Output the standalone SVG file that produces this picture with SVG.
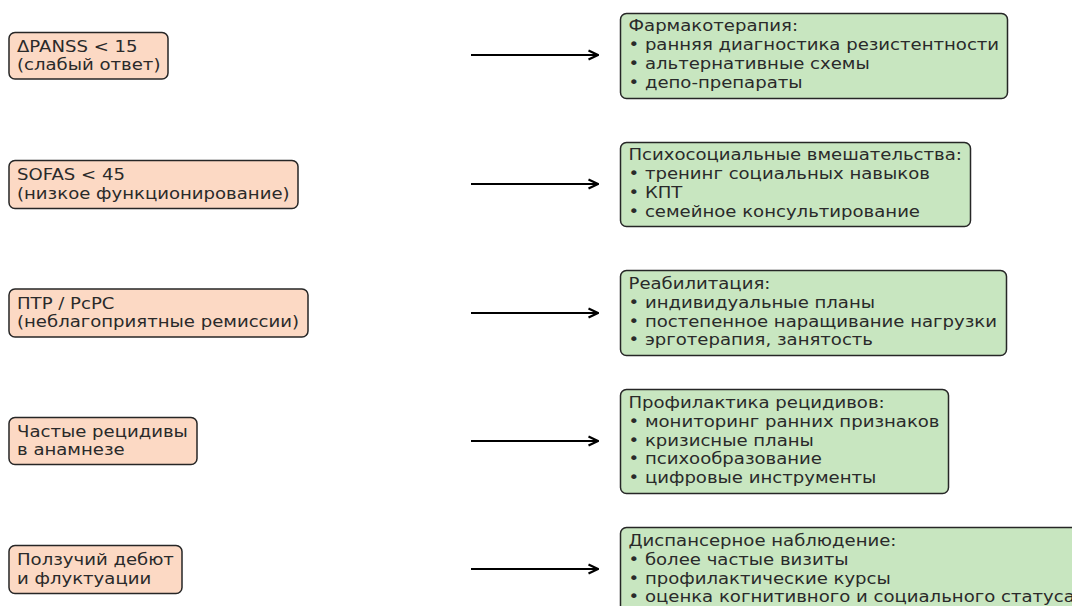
<svg xmlns="http://www.w3.org/2000/svg" width="1072" height="606" viewBox="0 0 1072 606">
<style>
.l{fill:#fcd9c4;stroke:#262626;stroke-width:1.5}
.r{fill:#c8e6c0;stroke:#262626;stroke-width:1.5}
text{font-family:"DejaVu Sans",sans-serif;font-size:16px;fill:#2a2a2a}
.c{stroke:#000;stroke-width:2;fill:none}
</style>
<defs>
<marker id="ah" viewBox="0 0 12 12" refX="11" refY="6" markerWidth="12" markerHeight="12" markerUnits="userSpaceOnUse" orient="auto">
<path d="M1.5,1.5 L11,6 L1.5,10.5" fill="none" stroke="#000" stroke-width="2.2"/>
</marker>
</defs>
<g id="connectors">
<line class="c" x1="471" y1="55" x2="598" y2="55" marker-end="url(#ah)"/>
<line class="c" x1="471" y1="184" x2="598" y2="184" marker-end="url(#ah)"/>
<line class="c" x1="471" y1="313" x2="598" y2="313" marker-end="url(#ah)"/>
<line class="c" x1="471" y1="441" x2="598" y2="441" marker-end="url(#ah)"/>
<line class="c" x1="471" y1="569" x2="598" y2="569" marker-end="url(#ah)"/>
</g>
<g id="n1"><rect class="l" x="9" y="32.5" width="159" height="46.5" rx="6"/>
<g transform="translate(17,0) scale(1.13,1)"><text x="0" y="52">ΔPANSS &lt; 15</text><text x="0" y="70.5">(слабый ответ)</text></g></g>
<g id="n2"><rect class="l" x="9" y="160.5" width="289" height="48" rx="6"/>
<g transform="translate(17,0) scale(1.13,1)"><text x="0" y="180.5">SOFAS &lt; 45</text><text x="0" y="199">(низкое функционирование)</text></g></g>
<g id="n3"><rect class="l" x="9" y="289" width="299" height="48" rx="6"/>
<g transform="translate(17,0) scale(1.13,1)"><text x="0" y="309">ПТР / РсРС</text><text x="0" y="327.5">(неблагоприятные ремиссии)</text></g></g>
<g id="n4"><rect class="l" x="9" y="417.5" width="188" height="47" rx="6"/>
<g transform="translate(17,0) scale(1.13,1)"><text x="0" y="437">Частые рецидивы</text><text x="0" y="455.5">в анамнезе</text></g></g>
<g id="n5"><rect class="l" x="9" y="545.5" width="173" height="48" rx="6"/>
<g transform="translate(17,0) scale(1.13,1)"><text x="0" y="565.5">Ползучий дебют</text><text x="0" y="584">и флуктуации</text></g></g>
<g id="t1"><rect class="r" x="620.5" y="13.5" width="387" height="85" rx="6"/>
<g transform="translate(628.5,0) scale(1.13,1)"><text x="0" y="31.5">Фармакотерапия:</text><text x="0" y="50.3">• ранняя диагностика резистентности</text><text x="0" y="69.1">• альтернативные схемы</text><text x="0" y="87.9">• депо-препараты</text></g></g>
<g id="t2"><rect class="r" x="620.5" y="142.5" width="350" height="84" rx="6"/>
<g transform="translate(628.5,0) scale(1.13,1)"><text x="0" y="160.5">Психосоциальные вмешательства:</text><text x="0" y="179.3">• тренинг социальных навыков</text><text x="0" y="198.1">• КПТ</text><text x="0" y="216.9">• семейное консультирование</text></g></g>
<g id="t3"><rect class="r" x="620.5" y="270.5" width="386" height="85" rx="6"/>
<g transform="translate(628.5,0) scale(1.13,1)"><text x="0" y="289">Реабилитация:</text><text x="0" y="307.8">• индивидуальные планы</text><text x="0" y="326.6">• постепенное наращивание нагрузки</text><text x="0" y="345.4">• эрготерапия, занятость</text></g></g>
<g id="t4"><rect class="r" x="620.5" y="389.5" width="328" height="104" rx="6"/>
<g transform="translate(628.5,0) scale(1.13,1)"><text x="0" y="408">Профилактика рецидивов:</text><text x="0" y="426.8">• мониторинг ранних признаков</text><text x="0" y="445.6">• кризисные планы</text><text x="0" y="464.4">• психообразование</text><text x="0" y="483.2">• цифровые инструменты</text></g></g>
<g id="t5"><rect class="r" x="620.5" y="527.5" width="470" height="90" rx="6"/>
<g transform="translate(628.5,0) scale(1.13,1)"><text x="0" y="546">Диспансерное наблюдение:</text><text x="0" y="564.8">• более частые визиты</text><text x="0" y="583.6">• профилактические курсы</text><text x="0" y="602.4">• оценка когнитивного и социального статуса</text></g></g>
</svg>
